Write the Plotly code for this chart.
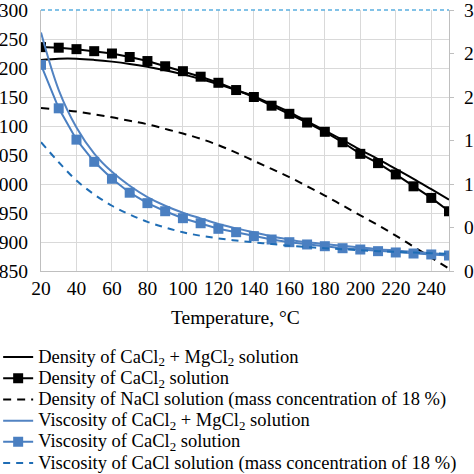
import plotly.graph_objects as go

temperature = [20, 30, 40, 50, 60, 70, 80, 90, 100, 110, 120, 130, 140, 150,
               160, 170, 180, 190, 200, 210, 220, 230, 240, 250]

density_cacl2_mgcl2 = [1214, 1216, 1216, 1214, 1211, 1207, 1202, 1196, 1189, 1181, 1172, 1162,
                       1151, 1138, 1124, 1108, 1092, 1076, 1059, 1043, 1026, 1009, 991, 973]
density_cacl2 = [1236, 1235, 1232.5, 1229, 1225, 1219, 1212, 1203, 1194.5, 1185, 1174.5, 1162,
                 1150, 1135, 1121, 1106, 1090, 1072, 1052, 1036, 1016.5, 996, 976, 953]
density_nacl = [1131, 1128, 1125, 1120, 1115, 1109, 1103, 1095, 1087, 1078, 1067, 1054,
                1040, 1026, 1012, 996, 980, 963, 946, 929, 911, 892, 873, 854]

viscosity_cacl2_mgcl2 = [2.74, 2.08, 1.65, 1.35, 1.14, 0.98, 0.85, 0.75, 0.67, 0.605, 0.54, 0.49,
                         0.445, 0.40, 0.36, 0.33, 0.31, 0.29, 0.27, 0.25, 0.235, 0.22, 0.205, 0.19]
viscosity_cacl2 = [2.37, 1.87, 1.51, 1.255, 1.06, 0.90, 0.78, 0.687, 0.607, 0.549, 0.485, 0.446,
                   0.40, 0.362, 0.331, 0.305, 0.285, 0.262, 0.247, 0.228, 0.213, 0.201, 0.19, 0.178]
viscosity_nacl = [1.48, 1.25, 1.04, 0.88, 0.75, 0.65, 0.565, 0.50, 0.445, 0.405, 0.375, 0.35,
                  0.33, 0.31, 0.29, 0.275, 0.262, 0.25, 0.238, 0.228, 0.22, 0.212, 0.205, 0.198]

x_ticks = [20, 40, 60, 80, 100, 120, 140, 160, 180, 200, 220, 240]
left_ticks = [850, 900, 950, 1000, 1050, 1100, 1150, 1200, 1250, 1300]
right_ticks = [0, 0.5, 1, 1.5, 2, 2.5, 3]

FONT = "'Liberation Serif', 'Times New Roman', Tinos, 'DejaVu Serif', serif"
BLUE = "#5283c2"
BLUE_SQ = "#4a7fc1"
BLUE_DASH = "#1f6db5"


def lg(text):
    return '<span style="font-size:18.5px">' + text + '</span>'


fig = go.Figure()
fig.add_trace(go.Scatter(x=temperature, y=density_cacl2_mgcl2, mode="lines", line_shape="spline",
                         line=dict(color="black", width=2),
                         name=lg("Density of CaCl<sub>2</sub> + MgCl<sub>2</sub> solution")))
fig.add_trace(go.Scatter(x=temperature, y=density_cacl2, mode="lines+markers",
                         line=dict(color="black", width=2),
                         marker=dict(symbol="square", size=10, color="black"),
                         name=lg("Density of CaCl<sub>2</sub> solution")))
fig.add_trace(go.Scatter(x=temperature, y=density_nacl, mode="lines", line_shape="spline",
                         line=dict(color="black", width=2, dash="8px,6px"),
                         name=lg("Density of NaCl solution (mass concentration of 18 %)")))
fig.add_trace(go.Scatter(x=temperature, y=viscosity_cacl2_mgcl2, mode="lines", line_shape="spline",
                         line=dict(color=BLUE, width=2), yaxis="y2",
                         name=lg("Viscosity of CaCl<sub>2</sub> + MgCl<sub>2</sub> solution")))
fig.add_trace(go.Scatter(x=temperature, y=viscosity_cacl2, mode="lines+markers", yaxis="y2",
                         line=dict(color=BLUE_SQ, width=2),
                         marker=dict(symbol="square", size=10, color=BLUE_SQ),
                         name=lg("Viscosity of CaCl<sub>2</sub> solution")))
fig.add_trace(go.Scatter(x=temperature, y=viscosity_nacl, mode="lines", line_shape="spline", yaxis="y2",
                         line=dict(color=BLUE_DASH, width=2, dash="7px,6px"),
                         name=lg("Viscosity of CaCl solution (mass concentration of 18 %)")))

fig.add_shape(type="line", xref="paper", yref="paper", x0=0, x1=1, y0=1, y1=1,
              line=dict(color="#5aaee0", width=1.5, dash="4px,3px"))

fig.add_annotation(text="Temperature, °C", xref="paper", yref="paper", x=(235 - 41) / 408, y=-0.18,
                   xanchor="center", yanchor="middle", showarrow=False,
                   font=dict(family=FONT, size=19.5, color="black"))

fig.update_layout(
    width=474, height=474,
    margin=dict(l=41, r=25, t=10, b=203, autoexpand=False),
    paper_bgcolor="white", plot_bgcolor="white",
    font=dict(family=FONT, size=19, color="black"),
    showlegend=True,
    legend=dict(x=-0.105, xanchor="left", y=-0.27, yanchor="top",
                font=dict(family=FONT, size=14, color="black"),
                bgcolor="rgba(0,0,0,0)", tracegroupgap=0),
    xaxis=dict(range=[20, 250], tickvals=x_ticks, showgrid=True, gridcolor="#d9d9d9", gridwidth=1,
               showline=True, linecolor="#bfbfbf", linewidth=1, zeroline=False,
               ticks="", ticklabeloverflow="allow",
               tickfont=dict(family=FONT, size=19.5, color="black")),
    yaxis=dict(range=[850, 1300], tickvals=left_ticks, showgrid=True, gridcolor="#d9d9d9", gridwidth=1,
               showline=True, linecolor="#bfbfbf", linewidth=1, zeroline=False,
               ticks="outside", ticklen=8, tickcolor="rgba(0,0,0,0)", ticklabeloverflow="allow",
               tickfont=dict(family=FONT, size=19.5, color="black")),
    yaxis2=dict(range=[0, 3], tickvals=right_ticks, overlaying="y", side="right", showgrid=False,
                showline=True, linecolor="#bfbfbf", linewidth=1, zeroline=False,
                ticks="outside", ticklen=4, tickcolor="#bfbfbf", ticklabeloverflow="allow",
                ticklabelstandoff=6,
                tickfont=dict(family=FONT, size=19.5, color="black")),
)

fig.write_html("out.html", config={"displayModeBar": False},
               post_script="document.body.style.margin='0';document.body.style.overflow='hidden';")
